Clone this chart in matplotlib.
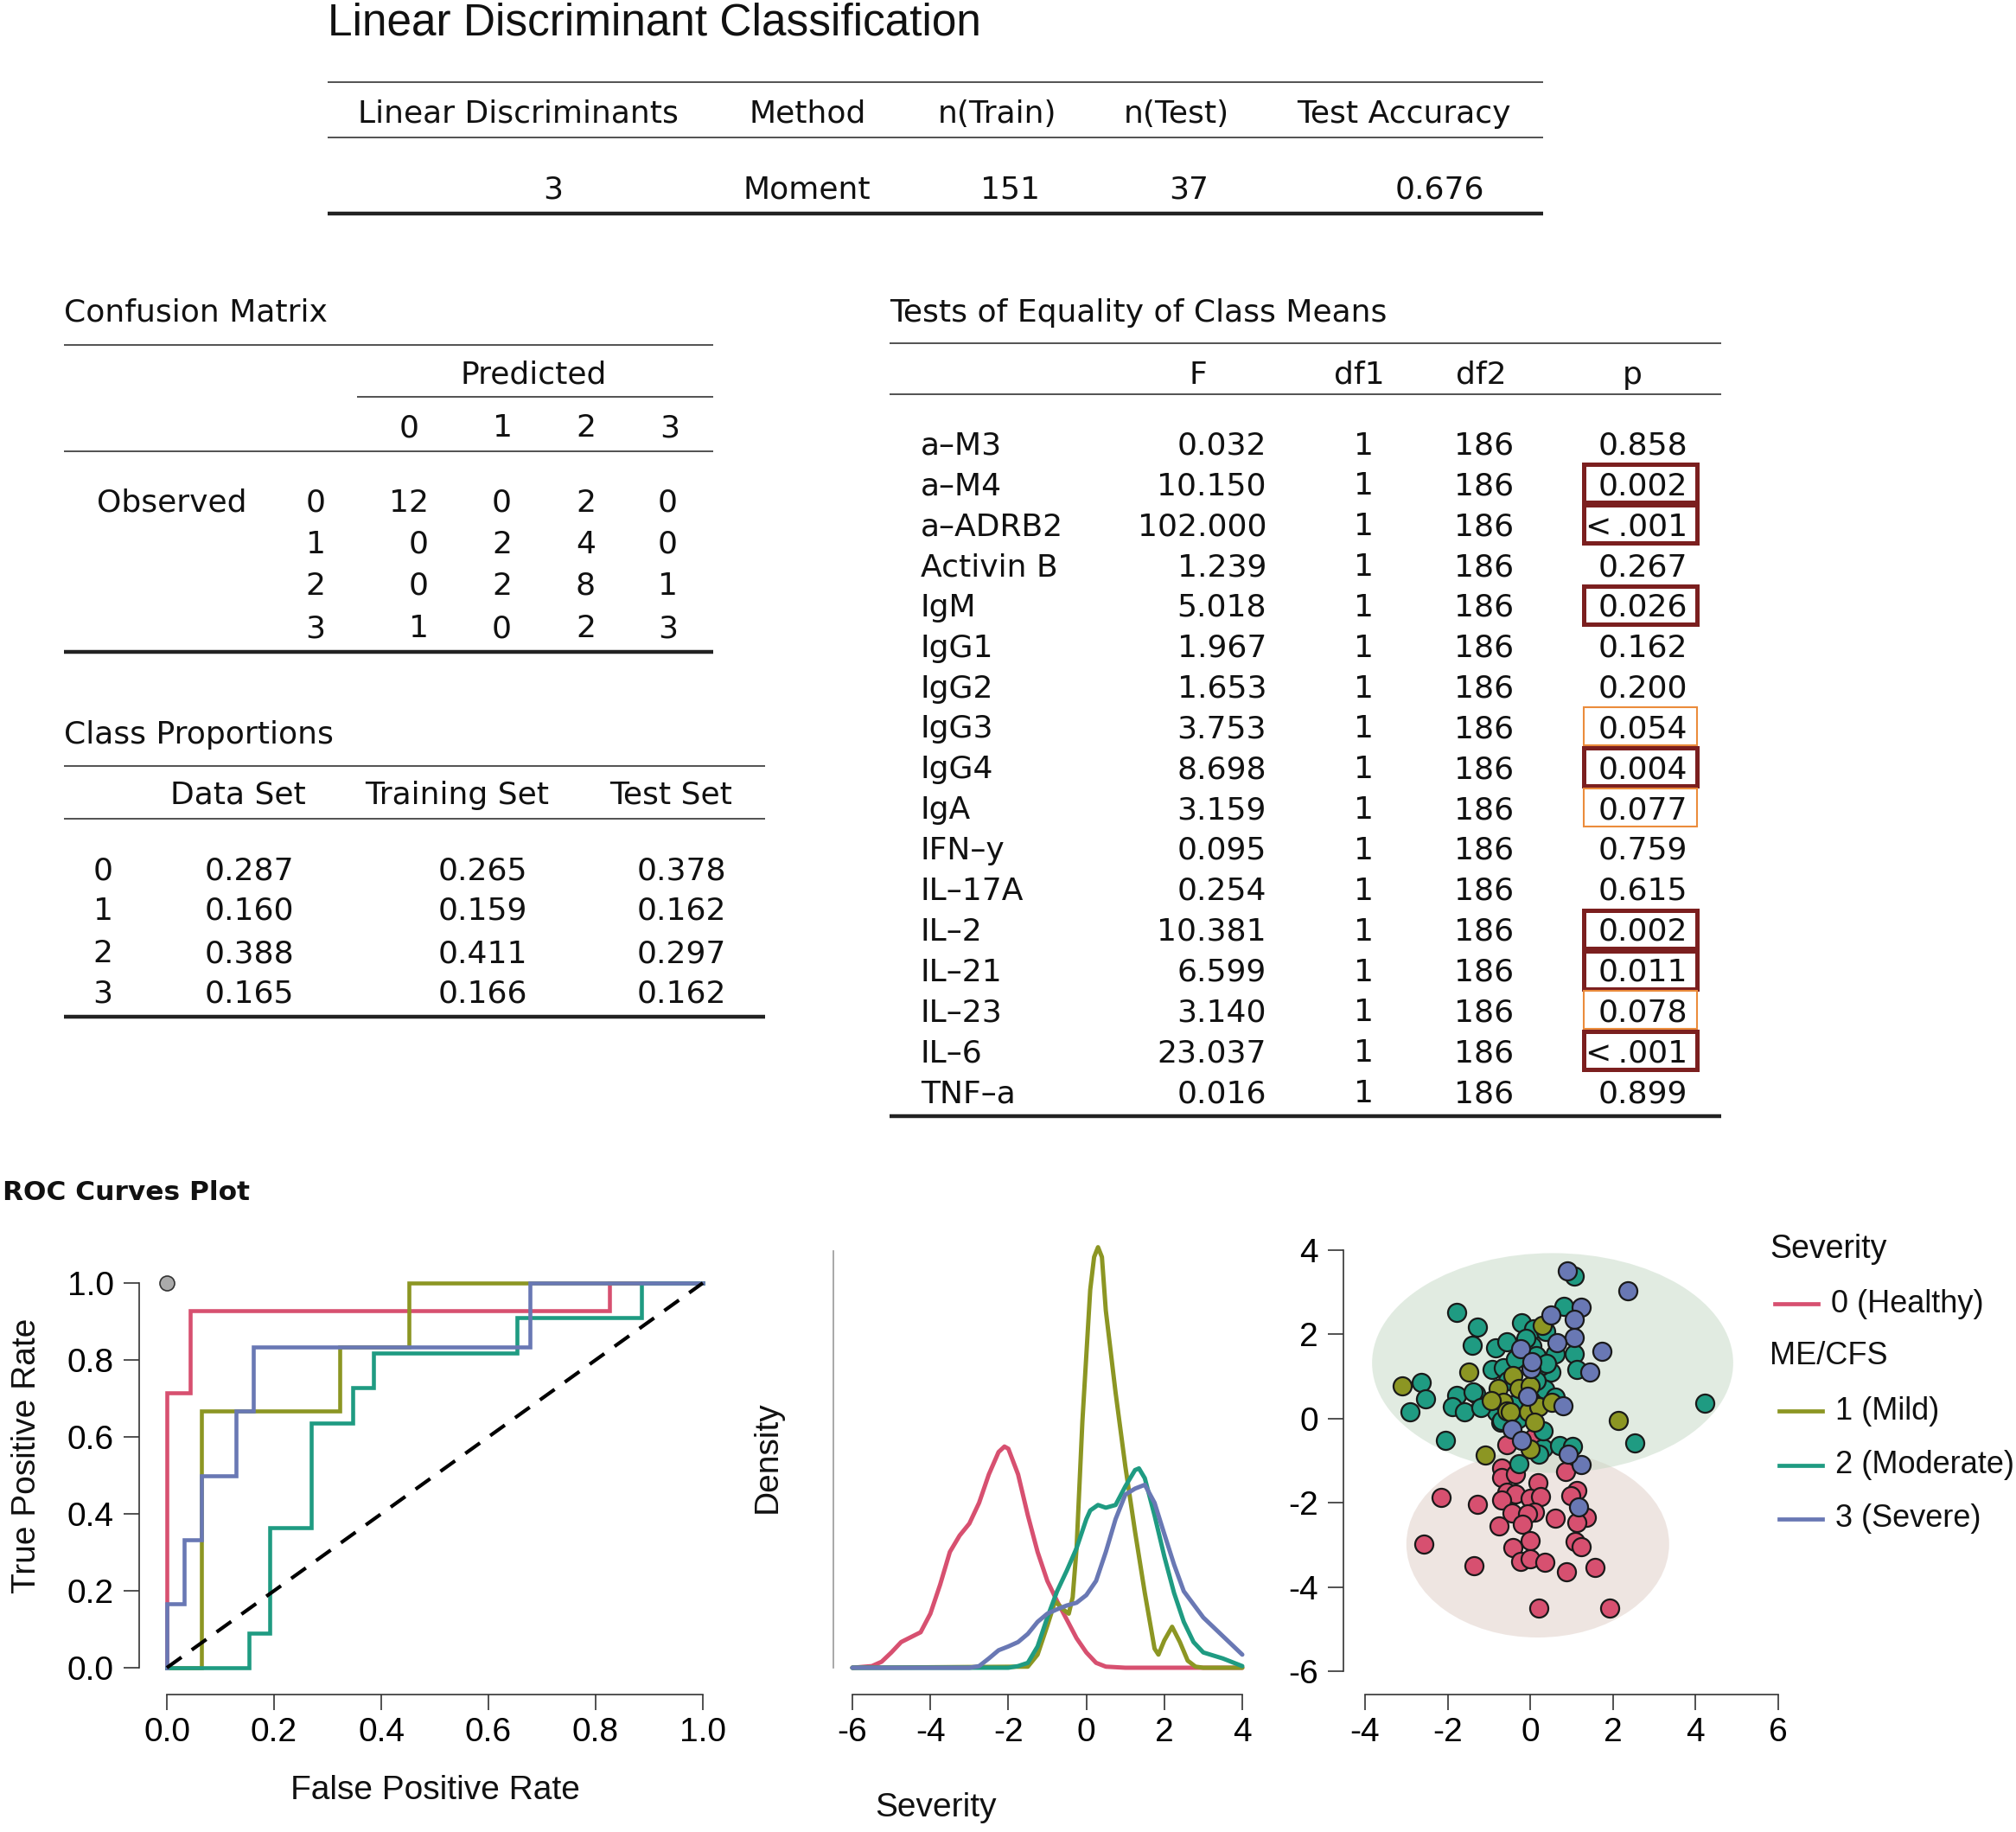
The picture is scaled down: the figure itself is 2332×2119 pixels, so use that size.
import numpy as np
import matplotlib
matplotlib.use("Agg")
import matplotlib.pyplot as plt
from matplotlib.patches import Ellipse, Rectangle

plt.rcParams['axes.unicode_minus'] = False

# ---------------- данные таблиц ----------------
top_headers = ["Linear Discriminants", "Method", "n(Train)", "n(Test)", "Test Accuracy"]
top_values = ["3", "Moment", "151", "37", "0.676"]

cm_classes = ["0", "1", "2", "3"]
cm_values = [[12, 0, 2, 0],
             [0, 2, 4, 0],
             [0, 2, 8, 1],
             [1, 0, 2, 3]]

prop_headers = ["Data Set", "Training Set", "Test Set"]
prop_data = [0.287, 0.160, 0.388, 0.165]
prop_train = [0.265, 0.159, 0.411, 0.166]
prop_test = [0.378, 0.162, 0.297, 0.162]

eq_vars = ["a–M3", "a–M4", "a–ADRB2", "Activin B", "IgM", "IgG1", "IgG2", "IgG3", "IgG4",
           "IgA", "IFN–y", "IL–17A", "IL–2", "IL–21", "IL–23", "IL–6", "TNF–a"]
eq_F = [0.032, 10.150, 102.000, 1.239, 5.018, 1.967, 1.653, 3.753, 8.698,
        3.159, 0.095, 0.254, 10.381, 6.599, 3.140, 23.037, 0.016]
eq_df1 = [1] * 17
eq_df2 = [186] * 17
eq_p = ["0.858", "0.002", "< .001", "0.267", "0.026", "0.162", "0.200", "0.054", "0.004",
        "0.077", "0.759", "0.615", "0.002", "0.011", "0.078", "< .001", "0.899"]

# ---------------- ROC кривые ----------------
roc_healthy_fpr = [0, 0, 0.043, 0.043, 0.826, 0.826, 1]
roc_healthy_tpr = [0, 0.714, 0.714, 0.929, 0.929, 1, 1]
roc_mild_fpr = [0, 0.065, 0.065, 0.323, 0.323, 0.452, 0.452, 1]
roc_mild_tpr = [0, 0, 0.667, 0.667, 0.833, 0.833, 1, 1]
roc_mod_fpr = [0, 0.154, 0.154, 0.192, 0.192, 0.269, 0.269, 0.346, 0.346, 0.385, 0.385,
               0.654, 0.654, 0.885, 0.885, 1]
roc_mod_tpr = [0, 0, 0.091, 0.091, 0.364, 0.364, 0.636, 0.636, 0.727, 0.727, 0.818,
               0.818, 0.909, 0.909, 1, 1]
roc_sev_fpr = [0, 0, 0.032, 0.032, 0.065, 0.065, 0.129, 0.129, 0.161, 0.161, 0.677, 0.677, 1]
roc_sev_tpr = [0, 0.167, 0.167, 0.333, 0.333, 0.5, 0.5, 0.667, 0.667, 0.833, 0.833, 1, 1]

# ---------------- плотности ----------------
dens_healthy_x = [-6, -5.5, -5.25, -5, -4.75, -4.5, -4.25, -4, -3.75, -3.5, -3.25, -3, -2.75,
                  -2.5, -2.25, -2.1, -2, -1.75, -1.5, -1.25, -1, -0.75, -0.5, -0.25, 0, 0.25,
                  0.5, 1, 2, 3, 4]
dens_healthy_y = [0, 0.003, 0.011, 0.028, 0.047, 0.056, 0.065, 0.099, 0.152, 0.212, 0.242,
                  0.264, 0.302, 0.354, 0.395, 0.405, 0.401, 0.354, 0.279, 0.212, 0.159, 0.122,
                  0.088, 0.054, 0.028, 0.009, 0.002, 0, 0, 0, 0]
dens_mild_x = [-6, -1.5, -1.25, -1.0, -0.8, -0.6, -0.45, -0.35, -0.25, -0.1, 0, 0.1, 0.2, 0.3,
               0.4, 0.5, 0.75, 1.0, 1.25, 1.5, 1.75, 1.85, 2.0, 2.2, 2.4, 2.6, 2.8, 3.0, 4]
dens_mild_y = [0, 0.002, 0.024, 0.077, 0.122, 0.107, 0.099, 0.129, 0.219, 0.452, 0.572, 0.692,
               0.752, 0.770, 0.752, 0.654, 0.504, 0.369, 0.249, 0.137, 0.035, 0.024, 0.050,
               0.075, 0.047, 0.013, 0.002, 0, 0]
dens_mod_x = [-6, -2, -1.75, -1.5, -1.25, -1.0, -0.75, -0.5, -0.25, 0, 0.1, 0.3, 0.5, 0.75,
              1.0, 1.25, 1.35, 1.5, 1.75, 2.0, 2.25, 2.5, 2.75, 3.0, 3.5, 4.0]
dens_mod_y = [0, 0, 0.003, 0.009, 0.039, 0.092, 0.140, 0.178, 0.219, 0.272, 0.288, 0.298,
              0.293, 0.298, 0.332, 0.362, 0.365, 0.347, 0.279, 0.204, 0.137, 0.084, 0.047,
              0.028, 0.017, 0.003]
dens_sev_x = [-6, -3, -2.75, -2.5, -2.25, -2.0, -1.75, -1.5, -1.25, -1.0, -0.75, -0.5, -0.25,
              0, 0.25, 0.5, 0.75, 1.0, 1.25, 1.5, 1.75, 2.0, 2.25, 2.5, 3.0, 3.5, 4.0]
dens_sev_y = [0, 0, 0.003, 0.017, 0.032, 0.039, 0.047, 0.062, 0.084, 0.099, 0.107, 0.114,
              0.119, 0.133, 0.159, 0.212, 0.272, 0.317, 0.328, 0.335, 0.302, 0.245, 0.189,
              0.140, 0.092, 0.058, 0.024]

# ---------------- точки (LD1, LD2) ----------------
healthy_x = [-0.57, 0.07, -0.70, -0.70, -0.36, 0.19, 0.86, 1.13, 0.98, -2.15, -1.29, -0.56,
             -0.35, -0.70, 0.00, 0.24, 0.10, -0.44, -0.07, 0.61, 1.36, 1.13, -0.75, -0.19,
             -2.58, -0.01, -0.42, 1.08, 1.22, -1.37, -0.23, 0.00, 0.36, 0.88, 1.56, 0.21, 1.92]
healthy_y = [-0.61, -0.46, -1.17, -1.40, -1.32, -1.52, -1.26, -1.70, -1.83, -1.88, -2.03, -1.75,
             -1.79, -1.93, -1.90, -1.86, -2.22, -2.24, -2.27, -2.36, -2.34, -2.46, -2.55, -2.51,
             -2.99, -2.90, -3.06, -2.93, -3.04, -3.50, -3.39, -3.33, -3.42, -3.64, -3.54, -4.51, -4.51]
mod_x = [1.06, -1.78, -1.29, -1.41, -0.84, -0.57, -0.21, 0.07, 0.38, 0.81, 0.03, 0.61, 1.06,
         1.12, 0.50, -0.92, -0.66, -0.35, 0.24, -2.64, -2.54, -2.91, -1.78, -1.32, -1.88, -1.59,
         -1.20, -0.82, -0.72, -0.42, 0.36, 4.22, 2.52, -2.06, -0.28, 0.31, 0.70, 1.03, 0.21,
         0.15, -0.10, 0.40, 0.15, -0.55, 0.60, -0.30, 0.30, 0.00, -1.39, -1.19, -0.70]
mod_y = [3.38, 2.53, 2.17, 1.74, 1.67, 1.83, 2.27, 2.13, 2.06, 2.67, 1.72, 1.53, 1.53, 1.16,
         1.11, 1.16, 1.21, 1.42, 1.24, 0.85, 0.46, 0.15, 0.55, 0.60, 0.29, 0.15, 0.28, 0.17,
         -0.09, 0.32, 0.70, 0.37, -0.58, -0.52, -1.08, -0.70, -0.65, -0.67, -0.84,
         1.50, 1.90, 1.30, 0.90, 0.90, 0.50, 0.00, -0.30, 0.45, 0.63, 0.26, -0.05]
mild_x = [-3.10, -1.48, -0.42, 0.28, -0.78, -0.28, -0.66, -0.94, -0.05, 0.21, 0.52, 0.10,
          2.13, -1.09, -0.56, 0.00, -0.49, 0.00]
mild_y = [0.77, 1.11, 1.03, 2.22, 0.72, 0.71, 0.39, 0.43, 0.17, 0.28, 0.39, -0.09,
          -0.05, -0.86, 0.19, 0.77, 0.15, -0.73]
sev_x = [0.89, 2.36, 0.50, 1.24, 1.06, 1.06, 0.65, 1.74, -0.23, 0.01, 1.43, -0.07, 0.80,
         -0.44, -0.21, 1.22, 1.16, 0.91, 0.03]
sev_y = [3.51, 3.04, 2.45, 2.64, 2.35, 1.93, 1.80, 1.60, 1.66, 1.18, 1.11, 0.54, 0.31,
         -0.25, -0.51, -1.10, -2.10, -0.84, 1.35]

# доверительные эллипсы: центр x, центр y, полуоси
ell_me = [0.54, 1.32, 4.37, 2.61]
ell_healthy = [0.18, -2.98, 3.18, 2.22]

legend_labels = ["0 (Healthy)", "1 (Mild)", "2 (Moderate)", "3 (Severe)"]

# ---------------- оформление ----------------
W, H = 2332, 2119
c_pink = "#D75070"
c_olive = "#8C9623"
c_teal = "#1F9B82"
c_blue = "#6978B4"
TF = "DejaVu Sans"
PF = "Liberation Sans"

fig = plt.figure(figsize=(W / 100, H / 100), dpi=100)
ov = fig.add_axes([0, 0, 1, 1])
ov.set_xlim(0, W)
ov.set_ylim(H, 0)
ov.axis('off')


def txt(x, y, s, ha='left', size=26, family=TF, **kw):
    ov.text(x, y + 4, s, ha=ha, va='center', fontsize=size, family=family, color='#111111', **kw)


def hline(y, x0, x1, lw=1.1):
    ov.plot([x0, x1], [y, y], color='#222222', lw=lw, solid_capstyle='butt')


def px_axes(l, t, r, b):
    return fig.add_axes([l / W, 1 - b / H, (r - l) / W, (b - t) / H])


# заголовок и верхняя таблица
ov.text(379, 27, "Linear Discriminant Classification", ha='left', va='center',
        fontsize=37, family=PF, color='#111111')
hline(95, 379, 1785)
hline(159, 379, 1785)
hline(247, 379, 1785, lw=3.2)
for s, xc in zip(top_headers, [599, 934, 1154, 1361, 1624]):
    txt(xc, 128, s, ha='center')
for s, xr in zip(top_values, [651, 1007, 1203, 1398, 1717]):
    txt(xr, 216, s, ha='right')

# матрица ошибок
txt(74, 358, "Confusion Matrix")
hline(399, 74, 825)
txt(617, 430, "Predicted", ha='center')
hline(459, 413, 825)
cm_hx = [473, 581, 678, 775]
cm_vx = [496, 592, 689, 784]
for s, xc in zip(cm_classes, cm_hx):
    txt(xc, 491, s, ha='center')
hline(522, 74, 825)
cm_rows = [578, 626, 674, 723]
txt(112, cm_rows[0], "Observed")
for i, yr in enumerate(cm_rows):
    txt(365, yr, cm_classes[i], ha='center')
    for j, xr in enumerate(cm_vx):
        txt(xr, yr, str(cm_values[i][j]), ha='right')
hline(754, 74, 825, lw=3.2)

# доли классов
txt(74, 846, "Class Proportions")
hline(886, 74, 885)
for s, xc in zip(prop_headers, [275, 529, 776]):
    txt(xc, 916, s, ha='center')
hline(947, 74, 885)
prop_rows = [1004, 1050, 1099, 1145]
for i, yr in enumerate(prop_rows):
    txt(119, yr, cm_classes[i], ha='center')
    for col, xr in zip([prop_data, prop_train, prop_test], [340, 610, 840]):
        txt(xr, yr, f"{col[i]:.3f}", ha='right')
hline(1176, 74, 885, lw=3.2)

# тесты равенства средних
txt(1029, 358, "Tests of Equality of Class Means")
hline(397, 1029, 1991)
for s, xc in zip(["F", "df1", "df2", "p"], [1386, 1572, 1713, 1888]):
    txt(xc, 430, s, ha='center')
hline(456, 1029, 1991)
for i in range(len(eq_vars)):
    yr = 511.5 + i * 46.85
    txt(1065, yr, eq_vars[i])
    txt(1465, yr, f"{eq_F[i]:.3f}", ha='right')
    txt(1578, yr, str(eq_df1[i]), ha='center')
    txt(1717, yr, str(eq_df2[i]), ha='center')
    txt(1952, yr, eq_p[i].replace(" ", "\u2009"), ha='right')
    pv = 0.001 if eq_p[i].startswith("<") else float(eq_p[i])
    if pv < 0.05:
        ov.add_patch(Rectangle((1832, yr - 21), 131, 44, fill=False, ec='#7B1F1F', lw=3.6))
    elif pv < 0.1:
        ov.add_patch(Rectangle((1832, yr - 21), 131, 44, fill=False, ec='#EB8C3C', lw=1.5))
hline(1291, 1029, 1991, lw=3.2)

ov.text(3, 1380, "ROC Curves Plot", ha='left', va='center', fontsize=22.5,
        family=TF, fontweight='bold', color='#111111')

# ---------------- ROC ----------------
ax = px_axes(193, 1484, 813, 1929)
ax.set_xlim(0, 1)
ax.set_ylim(0, 1)
for fpr, tpr, c in [(roc_healthy_fpr, roc_healthy_tpr, c_pink), (roc_mild_fpr, roc_mild_tpr, c_olive),
                    (roc_mod_fpr, roc_mod_tpr, c_teal), (roc_sev_fpr, roc_sev_tpr, c_blue)]:
    ax.plot(fpr, tpr, color=c, lw=3.3, clip_on=False, solid_joinstyle='miter')
ax.plot([0, 1], [0, 1], color='black', lw=3.0, ls=(0, (5, 3.5)), clip_on=False)
ax.scatter([0], [1], s=150, color='#AAAAAA', edgecolor='#333333', lw=1.2, clip_on=False, zorder=5)


def r_axes(a, left_out, bottom_out, xb, yb, ycol='#333333', yticks=True):
    for s in ['top', 'right']:
        a.spines[s].set_visible(False)
    a.spines['left'].set_position(('outward', left_out * 0.72))
    a.spines['bottom'].set_position(('outward', bottom_out * 0.72))
    a.spines['left'].set_bounds(*yb)
    a.spines['bottom'].set_bounds(*xb)
    a.spines['left'].set_color(ycol)
    a.spines['bottom'].set_color('#333333')
    a.spines['left'].set_linewidth(1.2)
    a.spines['bottom'].set_linewidth(1.2)
    a.tick_params(length=13, width=1.2, color='#333333', labelsize=28)
    a.tick_params(axis='y', pad=8)
    a.tick_params(axis='x', pad=6)
    if not yticks:
        a.set_yticks([])
    a.patch.set_alpha(0)
    for lab in a.get_xticklabels() + a.get_yticklabels():
        lab.set_family(PF)


ax.set_xticks(np.arange(0, 1.01, 0.2))
ax.set_yticks(np.arange(0, 1.01, 0.2))
ax.set_xticklabels([f"{v:.1f}" for v in np.arange(0, 1.01, 0.2)])
ax.set_yticklabels([f"{v:.1f}" for v in np.arange(0, 1.01, 0.2)])
r_axes(ax, 32, 31, (0, 1), (0, 1))
ov.text(31, 1684, "True Positive Rate", rotation=90, ha='center', va='center',
        fontsize=28, family=PF, color='#111111')
ov.text(503, 2071, "False Positive Rate", ha='center', va='center',
        fontsize=28, family=PF, color='#111111')

# ---------------- плотности ----------------
ad = px_axes(986, 1447, 1437, 1929)
ad.set_xlim(-6, 4)
ad.set_ylim(0, 0.763)
for xs, ys, c in [(dens_healthy_x, dens_healthy_y, c_pink), (dens_mild_x, dens_mild_y, c_olive),
                  (dens_mod_x, dens_mod_y, c_teal), (dens_sev_x, dens_sev_y, c_blue)]:
    ad.plot(xs, ys, color=c, lw=3.6, clip_on=False, solid_capstyle='round', solid_joinstyle='round')
ad.set_xticks([-6, -4, -2, 0, 2, 4])
r_axes(ad, 22, 31, (-6, 4), (0, 0.763), ycol='#999999', yticks=False)
ov.text(888, 1685, "Density", rotation=90, ha='center', va='center',
        fontsize=28, family=PF, color='#111111')
ov.text(1083, 2091, "Severity", ha='center', va='center',
        fontsize=28, family=PF, color='#111111')

# ---------------- точечный график ----------------
asc = px_axes(1579, 1446, 2057, 1933)
asc.set_xlim(-4, 6)
asc.set_ylim(-6, 4)
asc.add_patch(Ellipse((ell_healthy[0], ell_healthy[1]), 2 * ell_healthy[2], 2 * ell_healthy[3],
                      color='#DFCDC5', alpha=0.5, lw=0, zorder=1))
asc.add_patch(Ellipse((ell_me[0], ell_me[1]), 2 * ell_me[2], 2 * ell_me[3],
                      color='#C5D9C5', alpha=0.5, lw=0, zorder=1))
for xs, ys, c in [(healthy_x, healthy_y, c_pink), (mod_x, mod_y, c_teal),
                  (mild_x, mild_y, c_olive), (sev_x, sev_y, c_blue)]:
    asc.scatter(xs, ys, s=230, color=c, edgecolor='#1a1a1a', lw=1.6, zorder=3, clip_on=False)
asc.set_xticks([-4, -2, 0, 2, 4, 6])
asc.set_yticks([-6, -4, -2, 0, 2, 4])
r_axes(asc, 25, 27, (-4, 6), (-6, 4))

# легенда
ov.text(2047, 1445, "Severity", ha='left', va='center', fontsize=27, family=PF, color='#111111')
ov.text(2047, 1568, "ME/CFS", ha='left', va='center', fontsize=26, family=PF, color='#111111')
leg_y = [1508, 1632, 1695, 1757]
leg_x0 = [2053, 2058, 2058, 2058]
for lab, yy, x0, c in zip(legend_labels, leg_y, leg_x0, [c_pink, c_olive, c_teal, c_blue]):
    ov.plot([x0, x0 + 50], [yy, yy], color=c, lw=3.4)
    ov.text(x0 + 65, yy, lab, ha='left', va='center', fontsize=26, family=PF, color='#111111')

fig.savefig("out.png", dpi=100)
